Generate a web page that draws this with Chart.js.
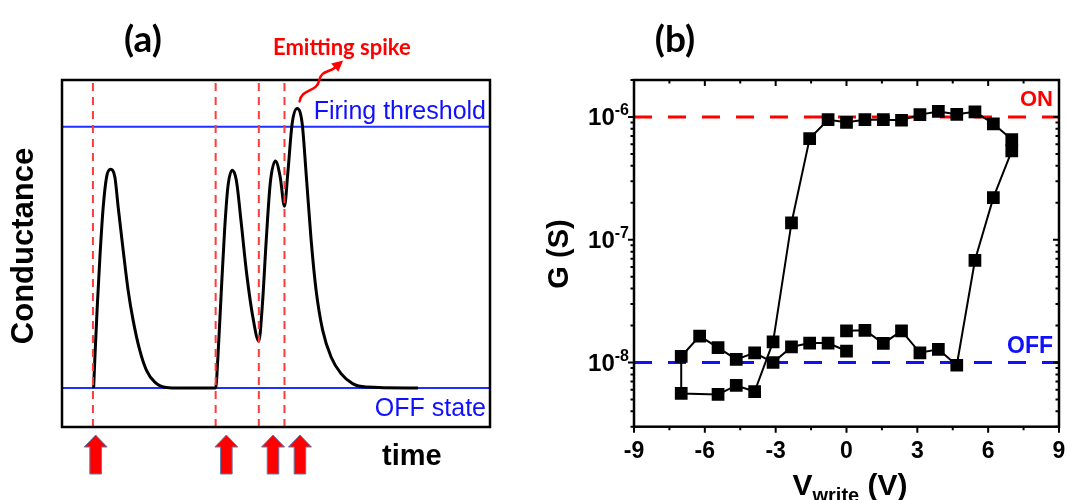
<!DOCTYPE html>
<html><head><meta charset="utf-8">
<script src="https://cdn.jsdelivr.net/npm/chart.js@4"></script>
<style>html,body{margin:0;padding:0;background:#fff;width:1068px;height:500px;overflow:hidden}
canvas{position:absolute;left:0;top:0}</style></head>
<body>
<canvas id="ca" width="1068" height="500"></canvas>
<canvas id="cb" width="1068" height="500"></canvas>
<script>
// ---------- Panel (a) data (arbitrary units: time 0..100, conductance OFF=0, threshold=1) ----------
const timeA = [7.39, 7.69, 8.23, 8.86, 9.63, 10.42, 11.35, 12.35, 13.12, 14.29, 15.45, 16.62, 18.18, 19.74, 21.68, 24.41, 27.51, 35.9,
  36.43, 37.23, 37.99, 38.76, 39.79, 40.72, 41.89, 43.05, 44.59, 45.99, 46.78, 47.72, 48.65, 49.88, 50.98, 51.98,
  52.75, 53.78, 54.94, 56.11, 57.04, 58.21, 59.37, 60.91, 62.87, 65.2, 67.9, 71.03, 83.2];
const condA = [0, 0.119, 0.310, 0.502, 0.693, 0.808, 0.837, 0.808, 0.693, 0.528, 0.374, 0.259, 0.144, 0.068, 0.023, 0.002, 0, 0,
  0.119, 0.374, 0.604, 0.770, 0.834, 0.796, 0.630, 0.451, 0.272, 0.180, 0.310, 0.566, 0.783, 0.869, 0.808, 0.696,
  0.821, 1.013, 1.070, 1.013, 0.821, 0.566, 0.374, 0.221, 0.119, 0.055, 0.017, 0.004, 0];
const stimulusTimes = [7.23, 35.9, 45.99, 51.98];
const arrowTimes = [7.86, 38.4, 49.3, 55.6];
const offLevel = 0;
const thresholdLevel = 1;
const timeRange = [0, 100];
const condRange = [-0.149, 1.179];

// ---------- Panel (b) data ----------
const vWrite = [0, 0.78, 1.56, 2.33, 3.11, 3.89, 4.67, 5.44, 6.22, 7, 7, 6.22, 5.44, 4.67, 3.89, 3.11, 2.33, 1.56, 0.78, 0,
  -0.78, -1.56, -2.33, -3.11, -3.89, -4.67, -5.44, -7, -7, -6.22, -5.44, -4.67, -3.89, -3.11, -2.33, -1.56, -0.78, 0];
const gS = [1.81e-8, 1.83e-8, 1.43e-8, 1.81e-8, 1.2e-8, 1.28e-8, 9.5e-9, 6.8e-8, 2.2e-7, 5.3e-7, 6.55e-7, 8.8e-7, 1.1e-6, 1.05e-6, 1.11e-6, 1.045e-6, 9.4e-7, 9.5e-7, 9.5e-7, 9.05e-7,
  9.5e-7, 6.67e-7, 1.37e-7, 1.47e-8, 5.8e-9, 6.5e-9, 5.5e-9, 5.6e-9, 1.12e-8, 1.64e-8, 1.32e-8, 1.06e-8, 1.2e-8, 1.0e-8, 1.34e-8, 1.44e-8, 1.44e-8, 1.24e-8];
const onLevel = 1e-6;
const offLevelB = 1e-8;
const xTicksB = [-9, -6, -3, 0, 3, 6, 9];
const xMinorB = [-7.5, -4.5, -1.5, 1.5, 4.5, 7.5];
const yDecadesB = [-8, -7, -6];
const xRangeB = [-9, 9];
const yRangeB = [3e-9, 2e-6];

const ARIAL = '"Liberation Sans", Arial, sans-serif';
const HUM = 'Lato, "Open Sans", sans-serif';

function text(ctx, s, x, y, font, color, align, base) {
  ctx.save(); ctx.font = font; ctx.fillStyle = color; ctx.textAlign = align || 'left'; ctx.textBaseline = base || 'alphabetic';
  ctx.fillText(s, x, y); ctx.restore();
}
function vtext(ctx, s, x, y, font, color) {
  ctx.save(); ctx.translate(x, y); ctx.rotate(-Math.PI / 2); ctx.font = font; ctx.fillStyle = color;
  ctx.textAlign = 'center'; ctx.textBaseline = 'alphabetic'; ctx.fillText(s, 0, 0); ctx.restore();
}

const baseOpts = {
  responsive: false, animation: false, events: [],
  plugins: { legend: { display: false }, tooltip: { enabled: false } }
};

// ---------- Chart (a) ----------
const plugA = {
  id: 'plugA',
  afterDraw(chart) {
    const ctx = chart.ctx, a = chart.chartArea, xs = chart.scales.x, ys = chart.scales.y;
    ctx.save();
    ctx.strokeStyle = '#000'; ctx.lineWidth = 2.5;
    ctx.strokeRect(a.left, a.top, a.right - a.left, a.bottom - a.top);
    ctx.restore();
    text(ctx, '(a)', 143, 40, 'bold 37px ' + HUM, '#000', 'center', 'middle');
    text(ctx, 'Firing threshold', a.right - 4, ys.getPixelForValue(thresholdLevel) - 8, '25px ' + ARIAL, '#1010ff', 'right');
    text(ctx, 'OFF state', a.right - 4, ys.getPixelForValue(offLevel) + 28, '25px ' + ARIAL, '#1010ff', 'right');
    text(ctx, 'Emitting spike', 273, 55, 'bold 22px ' + HUM, '#ff0000', 'left');
    vtext(ctx, 'Conductance', 33, 246, 'bold 31px ' + ARIAL, '#000');
    text(ctx, 'time', 382, 465, 'bold 29px ' + ARIAL, '#000', 'left');
    // wavy arrow from the highest peak
    let im = 0; condA.forEach((v, i) => { if (v > condA[im]) im = i; });
    const px = xs.getPixelForValue(timeA[im]), py = ys.getPixelForValue(condA[im]);
    ctx.save();
    ctx.strokeStyle = '#ff0000'; ctx.fillStyle = '#ff0000'; ctx.lineWidth = 2.5; ctx.lineCap = 'round';
    ctx.beginPath();
    ctx.moveTo(px + 2.5, py - 7);
    ctx.bezierCurveTo(px + 4, py - 20, px + 20, py - 16, px + 22, py - 28);
    ctx.bezierCurveTo(px + 24, py - 38, px + 32, py - 36, px + 38, py - 41);
    ctx.stroke();
    const tx = px + 46, ty = py - 48, ang = Math.atan2(-6, 7);
    ctx.beginPath();
    ctx.moveTo(tx, ty);
    ctx.lineTo(tx - 11 * Math.cos(ang) + 5.5 * Math.sin(ang), ty - 11 * Math.sin(ang) - 5.5 * Math.cos(ang));
    ctx.lineTo(tx - 11 * Math.cos(ang) - 5.5 * Math.sin(ang), ty - 11 * Math.sin(ang) + 5.5 * Math.cos(ang));
    ctx.closePath(); ctx.fill();
    ctx.restore();
    // red block arrows under the axis at stimulus instants
    arrowTimes.forEach(t => {
      const cx = xs.getPixelForValue(t);
      const tip = a.bottom + 8, hb = a.bottom + 20, bot = a.bottom + 47;
      ctx.save();
      ctx.beginPath();
      ctx.moveTo(cx, tip); ctx.lineTo(cx + 11.5, hb); ctx.lineTo(cx + 5.8, hb); ctx.lineTo(cx + 5.8, bot);
      ctx.lineTo(cx - 5.8, bot); ctx.lineTo(cx - 5.8, hb); ctx.lineTo(cx - 11.5, hb); ctx.closePath();
      ctx.fillStyle = '#ff0000'; ctx.fill();
      ctx.strokeStyle = '#5a7db0'; ctx.lineWidth = 1; ctx.stroke();
      ctx.restore();
    });
  }
};

const dsA = [];
stimulusTimes.forEach(t => dsA.push({
  data: [{ x: t, y: condRange[0] }, { x: t, y: condRange[1] }],
  borderColor: '#ff3b3b', borderWidth: 2, borderDash: [8, 6], pointRadius: 0, order: 0
}));
dsA.push({
  data: timeA.map((t, i) => ({ x: t, y: condA[i] })),
  borderColor: '#000', borderWidth: 3, pointRadius: 0, cubicInterpolationMode: 'monotone', order: 1
});
dsA.push({ data: [{ x: timeRange[0], y: thresholdLevel }, { x: timeRange[1], y: thresholdLevel }], borderColor: '#1f2fff', borderWidth: 2, pointRadius: 0, order: 2 });
dsA.push({ data: [{ x: timeRange[0], y: offLevel }, { x: timeRange[1], y: offLevel }], borderColor: '#1f2fff', borderWidth: 2, pointRadius: 0, order: 2 });

new Chart(document.getElementById('ca'), {
  type: 'line',
  data: { datasets: dsA },
  options: Object.assign({}, baseOpts, {
    layout: { padding: { left: 62, right: 1068 - 490, top: 80, bottom: 73 } },
    scales: {
      x: { type: 'linear', display: false, min: timeRange[0], max: timeRange[1] },
      y: { type: 'linear', display: false, min: condRange[0], max: condRange[1] }
    }
  }),
  plugins: [plugA]
});

// ---------- Chart (b) ----------
const plugB = {
  id: 'plugB',
  afterDraw(chart) {
    const ctx = chart.ctx, a = chart.chartArea, xs = chart.scales.x, ys = chart.scales.y;
    ctx.save();
    ctx.strokeStyle = '#000'; ctx.lineWidth = 2.5; ctx.lineCap = 'square';
    ctx.strokeRect(a.left, a.top, a.right - a.left, a.bottom - a.top);
    ctx.lineWidth = 2; ctx.lineCap = 'butt';
    ctx.beginPath();
    const xt = (v, len) => {
      const p = xs.getPixelForValue(v);
      ctx.moveTo(p, a.bottom); ctx.lineTo(p, a.bottom + len);
      ctx.moveTo(p, a.top); ctx.lineTo(p, a.top + len);
    };
    xTicksB.forEach(v => xt(v, 6));
    xMinorB.forEach(v => xt(v, 3.5));
    const yt = (v, len) => {
      const p = ys.getPixelForValue(v);
      if (p < a.top - 0.5 || p > a.bottom + 0.5) return;
      ctx.moveTo(a.left, p); ctx.lineTo(a.left - len, p);
      ctx.moveTo(a.right, p); ctx.lineTo(a.right - len, p);
    };
    for (let e = -9; e <= -6; e++) {
      for (let m = 1; m <= 9; m++) yt(m * Math.pow(10, e), m === 1 ? 6 : 3.5);
    }
    ctx.stroke();
    ctx.restore();
    xTicksB.forEach(v => text(ctx, String(v), xs.getPixelForValue(v), 458, 'bold 23px ' + ARIAL, '#000', 'center'));
    yDecadesB.forEach(e => {
      const p = ys.getPixelForValue(Math.pow(10, e));
      ctx.save();
      ctx.font = 'bold 16px ' + ARIAL;
      const sw = ctx.measureText(String(e)).width;
      ctx.restore();
      const rx = a.left - 5;
      text(ctx, String(e), rx, p - 2, 'bold 16px ' + ARIAL, '#000', 'right');
      text(ctx, '10', rx - sw, p + 8, 'bold 24px ' + ARIAL, '#000', 'right');
    });
    text(ctx, '(b)', 675, 40, 'bold 37px ' + HUM, '#000', 'center', 'middle');
    text(ctx, 'ON', a.right - 6, ys.getPixelForValue(onLevel) - 11, 'bold 22px ' + ARIAL, '#ff0000', 'right');
    text(ctx, 'OFF', a.right - 6, ys.getPixelForValue(offLevelB) - 10, 'bold 23px ' + ARIAL, '#1010ff', 'right');
    vtext(ctx, 'G (S)', 568, 254, 'bold 29px ' + ARIAL, '#000');
    // x title with subscript
    ctx.save();
    ctx.font = 'bold 30px ' + ARIAL;
    const wV = ctx.measureText('V').width;
    ctx.font = 'bold 20px ' + ARIAL;
    const wSub = ctx.measureText('write').width;
    ctx.font = 'bold 30px ' + ARIAL;
    const wRest = ctx.measureText(' (V)').width;
    ctx.restore();
    const total = wV + wSub + wRest;
    let x0 = 850 - total / 2;
    text(ctx, 'V', x0, 495, 'bold 30px ' + ARIAL, '#000', 'left');
    text(ctx, 'write', x0 + wV, 502, 'bold 20px ' + ARIAL, '#000', 'left');
    text(ctx, ' (V)', x0 + wV + wSub, 495, 'bold 30px ' + ARIAL, '#000', 'left');
  }
};

new Chart(document.getElementById('cb'), {
  type: 'line',
  data: {
    datasets: [
      {
        data: vWrite.map((v, i) => ({ x: v, y: gS[i] })),
        borderColor: '#000', borderWidth: 2, pointStyle: 'rect', pointRadius: 9,
        pointBackgroundColor: '#000', pointBorderColor: '#000', pointBorderWidth: 0, tension: 0, order: 0
      },
      {
        data: [{ x: xRangeB[0], y: onLevel }, { x: xRangeB[1], y: onLevel }],
        borderColor: '#ff0000', borderWidth: 3, borderDash: [18, 16], pointRadius: 0, order: 1
      },
      {
        data: [{ x: xRangeB[0], y: offLevelB }, { x: xRangeB[1], y: offLevelB }],
        borderColor: '#1010ff', borderWidth: 3, borderDash: [18, 16], pointRadius: 0, order: 1
      }
    ]
  },
  options: Object.assign({}, baseOpts, {
    layout: { padding: { left: 634, right: 2, top: 80, bottom: 500 - 426.7 } },
    scales: {
      x: { type: 'linear', display: false, min: xRangeB[0], max: xRangeB[1] },
      y: { type: 'logarithmic', display: false, min: yRangeB[0], max: yRangeB[1] }
    }
  }),
  plugins: [plugB]
});
</script>
</body></html>
